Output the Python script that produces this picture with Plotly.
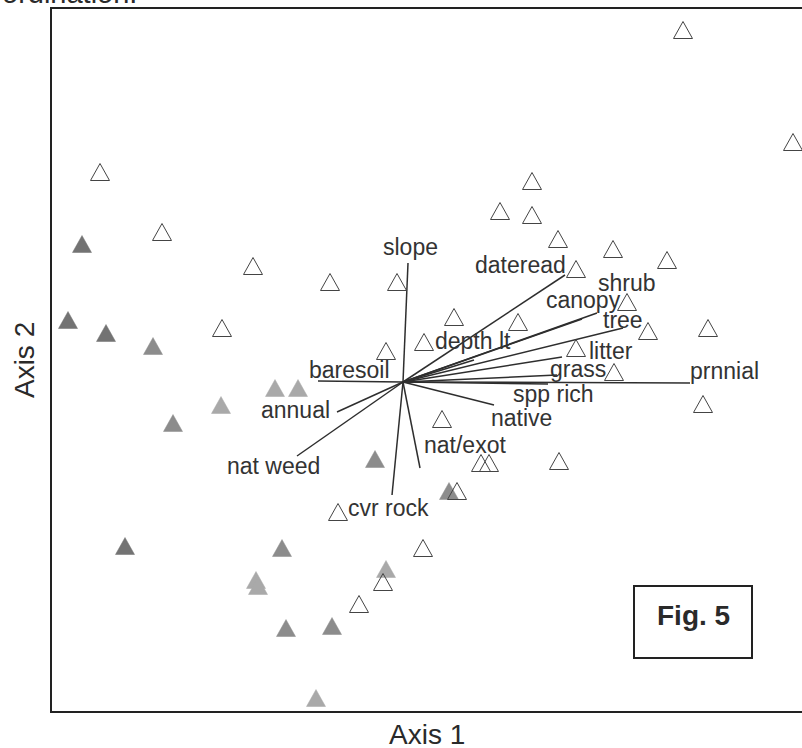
import plotly.graph_objects as go

# Site scores on ordination axes 1 and 2, grouped by symbol
open_x = [2.80, 3.90, -3.03, 1.29, 0.97, 1.29, -2.41, 1.55, 2.10, -1.50, 2.64, 1.73,
          -0.73, -0.06, 2.24, 0.51, 1.15, -1.81, 3.05, 2.45, 0.21, -0.17, 1.73, 2.11,
          3.00, 0.39, 0.78, 0.86, 1.56, 0.54, -0.65, 0.20, -0.20, -0.44]
open_y = [3.52, 2.40, 2.10, 2.01, 1.71, 1.67, 1.50, 1.43, 1.33, 1.16, 1.22, 1.13,
          1.00, 1.00, 0.80, 0.65, 0.60, 0.54, 0.54, 0.51, 0.40, 0.31, 0.34, 0.10,
          -0.22, -0.37, -0.81, -0.81, -0.79, -1.09, -1.30, -1.66, -2.00, -2.22]

dark_x = [-3.21, -3.35, -2.97, -2.78]
dark_y = [1.38, 0.62, 0.49, -1.64]

mid_x = [-2.50, -2.30, -1.21, -1.17, -0.71, -0.28, 0.46]
mid_y = [0.36, -0.41, -1.66, -2.46, -2.44, -0.77, -1.09]

light_x = [-1.28, -1.05, -1.82, -1.47, -1.45, -0.17, -0.87]
light_y = [-0.06, -0.06, -0.23, -1.98, -2.04, -1.87, -3.16]

# Environmental variables drawn as biplot vectors from the origin
var_names = ["slope", "dateread", "shrub", "canopy", "tree", "depth lt", "litter",
             "grass", "spp rich", "prnnial", "native", "nat/exot", "cvr rock",
             "nat weed", "annual", "baresoil"]
var_x = [0.05, 1.62, 1.94, 1.79, 2.20, 0.71, 1.59, 1.54, 1.45, 2.87, 0.91, 0.17,
         -0.11, -1.06, -0.66, -0.85]
var_y = [1.19, 1.07, 0.69, 0.63, 0.54, 0.22, 0.25, 0.07, -0.02, -0.01, -0.23, -0.86,
         -1.13, -0.74, -0.30, 0.01]

# Label offsets from each vector tip, in pixels (right, down)
label_dx = [2, -44.5, 29.5, 1.5, 0, -1.5, 48.5, 20.5, 5.5, 34, 27.5, 45, -3.5, -23.5, -42, 31]
label_dy = [-16, -10, -30, -19, -8, -19, -6, -6, 10, -12, 13, -23, 13, 10, -2, -11.5]

X_RANGE = [-3.51, 3.99]
Y_RANGE = [-3.29, 3.73]

FONT = "Liberation Sans, Arial, sans-serif"
INK = "#2a2a2a"

fig = go.Figure()

# vectors
vx, vy = [], []
for x, y in zip(var_x, var_y):
    vx += [0, x, None]
    vy += [0, y, None]
fig.add_trace(go.Scatter(x=vx, y=vy, mode="lines",
                         line=dict(color="#2e2e2e", width=1.5),
                         hoverinfo="skip", showlegend=False))

# triangle symbols as pixel-sized shapes anchored at each site score
TRI = "M -9.5,-8.5 L 9.5,-8.5 L 0,8.5 Z"


def add_triangles(xs, ys, fill, line_color, line_width):
    for x, y in zip(xs, ys):
        fig.add_shape(type="path", xref="x", yref="y",
                      xsizemode="pixel", ysizemode="pixel",
                      xanchor=x, yanchor=y, path=TRI,
                      fillcolor=fill,
                      line=dict(color=line_color, width=line_width))


add_triangles(dark_x, dark_y, "#737373", "#737373", 0.5)
add_triangles(mid_x, mid_y, "#8c8c8c", "#8c8c8c", 0.5)
add_triangles(light_x, light_y, "#a9a9a9", "#a9a9a9", 0.5)
add_triangles(open_x, open_y, "rgba(0,0,0,0)", "#444444", 1)

# vector labels
for name, x, y, dx, dy in zip(var_names, var_x, var_y, label_dx, label_dy):
    fig.add_annotation(x=x, y=y, xref="x", yref="y", text=name, showarrow=False,
                       xshift=dx, yshift=-dy, xanchor="center", yanchor="middle",
                       font=dict(family=FONT, size=23, color="#333333"))

# figure label box
fig.add_shape(type="rect", xref="paper", yref="paper",
              x0=(634 - 52) / 750, x1=(752 - 52) / 750,
              y0=(711 - 658) / 702, y1=(711 - 586) / 702,
              line=dict(color="#222222", width=2), fillcolor="rgba(0,0,0,0)")
fig.add_annotation(xref="paper", yref="paper", x=(693.5 - 52) / 750,
                   y=(711 - 615) / 702, text="<b>Fig. 5</b>", showarrow=False,
                   xanchor="center", yanchor="middle",
                   font=dict(family=FONT, size=28, color=INK))

# axis titles
fig.add_annotation(xref="paper", yref="paper", x=0.5, y=-0.034, text="Axis 1",
                   showarrow=False, xanchor="center", yanchor="middle",
                   font=dict(family=FONT, size=28, color=INK))
fig.add_annotation(xref="paper", yref="paper", x=-0.0373, y=0.5, text="Axis 2",
                   textangle=-90, showarrow=False, xanchor="center", yanchor="middle",
                   font=dict(family=FONT, size=28, color=INK))

# caption line running off the top of the page
fig.add_annotation(xref="paper", yref="paper", x=-0.0693, y=0.9972, text="ordination.",
                   showarrow=False, xanchor="left", yanchor="bottom",
                   font=dict(family=FONT, size=29, color=INK))

fig.update_xaxes(range=X_RANGE, showgrid=False, zeroline=False, showticklabels=False,
                 ticks="", showline=True, mirror=True, linecolor="#222222", linewidth=2)
fig.update_yaxes(range=Y_RANGE, showgrid=False, zeroline=False, showticklabels=False,
                 ticks="", showline=True, mirror=False, linecolor="#222222", linewidth=2)

fig.update_layout(width=802, height=748,
                  margin=dict(l=52, r=0, t=9, b=37),
                  plot_bgcolor="white", paper_bgcolor="white",
                  showlegend=False)

fig.write_html("out.html")
